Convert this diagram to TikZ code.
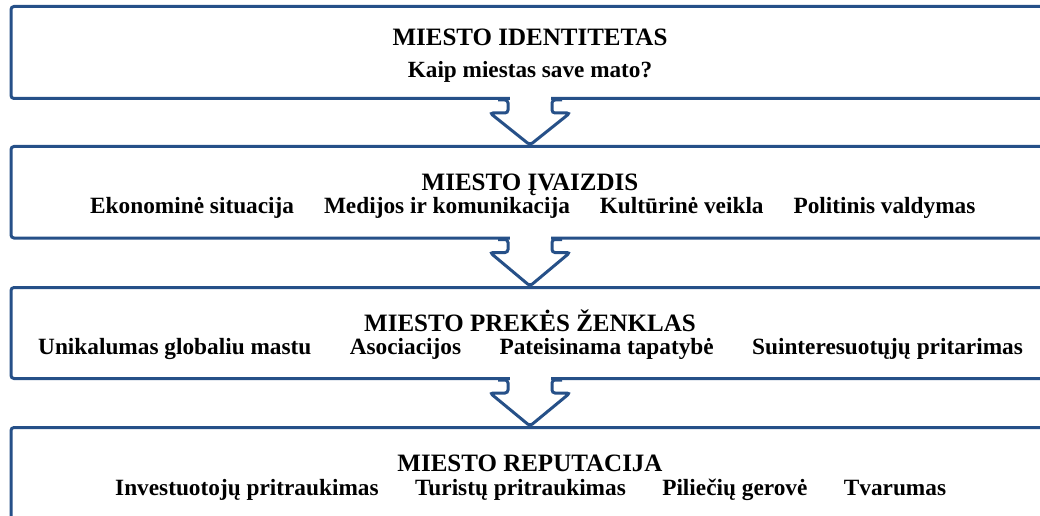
\documentclass[tikz,border=0pt]{standalone}
\usepackage{fontspec}
\setmainfont{Liberation Serif}
\usetikzlibrary{calc}
\definecolor{frame}{RGB}{38,80,136}
\begin{document}
\begin{tikzpicture}[x=1pt,y=1pt,
  box/.style={draw=frame, line width=3pt, rounded corners=3pt, minimum width=1060pt, minimum height=92pt, anchor=north west, inner sep=0pt},
  ttl/.style={font=\bfseries\fontsize{25}{29}\selectfont, anchor=base},
  sub/.style={font=\bfseries\fontsize{23.2}{27}\selectfont, anchor=base},
  itm/.style={font=\bfseries\fontsize{23.3}{27}\selectfont, anchor=base west, inner sep=0pt},
  arr/.style={draw=frame, line width=3pt, rounded corners=3pt}
]
\useasboundingbox (0,0) rectangle (1040,515);
\clip (0,0) rectangle (1040,515);
\coordinate (ax) at (530,0);
% boxes
\node[box] (b1) at (9.5,510) {};
\node[box, minimum height=91.5pt] (b2) at (9.5,370) {};
\node[box, minimum height=91pt] (b3) at (9.5,229) {};
\node[box, minimum height=160pt] (b4) at (9.5,89) {};
% arrows
\foreach \a/\b in {b1/b2, b2/b3, b3/b4}{
  \fill[white] ($(\a.south west -| ax)+(-20.5,4)$) rectangle ($(\a.south west -| ax)+(20.5,-4)$);
  \draw[arr] ($(\a.south west -| ax)+(-32,0)$) -- ++(10,0) -- ++(0,-13) -- ++(-18,0)
     -- (\b.north west -| ax) -- ($(\a.south west -| ax)+(40,-13)$) -- ++(-18,0) -- ++(0,13) -- ++(10,0);
}
% box 1
\node[ttl] (t1) at (530,469) {MIESTO IDENTITETAS};
\node[sub] (s1) at (530,437) {Kaip miestas save mato?};
% box 2
\node[ttl] (t2) at (530,324.5) {MIESTO ĮVAIZDIS};
\node[itm] (i21) at (90,302) {Ekonominė situacija};
\node[itm] (i22) at ($(i21.base east)+(29.5,0)$) {Medijos ir komunikacija};
\node[itm] (i23) at ($(i22.base east)+(29.5,0)$) {Kultūrinė veikla};
\node[itm] (i24) at ($(i23.base east)+(29.5,0)$) {Politinis valdymas};
% box 3
\node[ttl] (t3) at (530,183.5) {MIESTO PREKĖS ŽENKLAS};
\node[itm] (i31) at (38,161) {Unikalumas globaliu mastu};
\node[itm] (i32) at ($(i31.base east)+(38,0)$) {Asociacijos};
\node[itm] (i33) at ($(i32.base east)+(38,0)$) {Pateisinama tapatybė};
\node[itm] (i34) at ($(i33.base east)+(38,0)$) {Suinteresuotųjų pritarimas};
% box 4
\node[ttl] (t4) at (530,43.5) {MIESTO REPUTACIJA};
\node[itm] (i41) at (115,20) {Investuotojų pritraukimas};
\node[itm] (i42) at ($(i41.base east)+(36,0)$) {Turistų pritraukimas};
\node[itm] (i43) at ($(i42.base east)+(36,0)$) {Piliečių gerovė};
\node[itm] (i44) at ($(i43.base east)+(36,0)$) {Tvarumas};
\end{tikzpicture}
\end{document}
